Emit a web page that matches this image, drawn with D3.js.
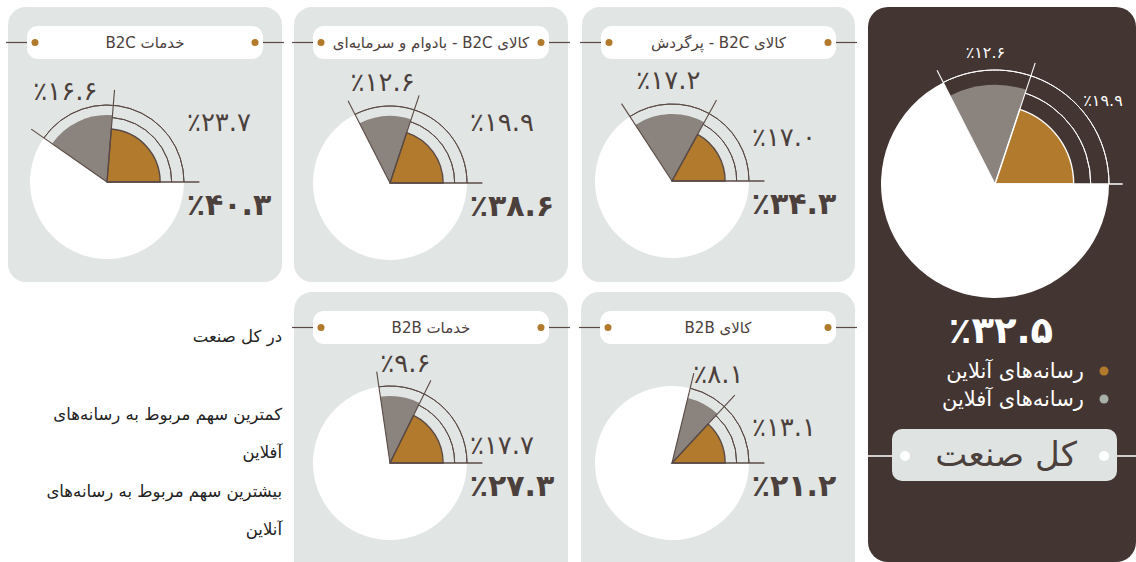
<!DOCTYPE html>
<html>
<head>
<meta charset="utf-8">
<script src="https://cdn.jsdelivr.net/npm/d3@7"></script>
<style>
  html, body { margin: 0; padding: 0; background: #ffffff; }
  svg { display: block; font-family: "DejaVu Sans", "Noto Sans", sans-serif; }
</style>
</head>
<body>
<svg id="chart" width="1136" height="562"></svg>
<script>
// ---------- data ----------
const categories = [
  "خدمات B2C",
  "کالای B2C - بادوام و سرمایه\u200cای",
  "کالای B2C - پرگردش",
  "خدمات B2B",
  "کالای B2B"
];
const onlineShare  = [23.7, 19.9, 17.0, 17.7, 13.1];
const offlineShare = [16.6, 12.6, 17.2, 9.6, 8.1];
const totalShare   = [40.3, 38.6, 34.3, 27.3, 21.2];

const industryTitle   = "کل صنعت";
const industryOnline  = 19.9;
const industryOffline = 12.6;
const industryTotal   = 32.5;
const legendLabels = ["رسانه\u200cهای آنلاین", "رسانه\u200cهای آفلاین"];

const notes = [
  "در کل صنعت",
  "کمترین سهم مربوط به رسانه\u200cهای",
  "آفلاین",
  "بیشترین سهم مربوط به رسانه\u200cهای",
  "آنلاین"
];

// ---------- layout (not data) ----------
const panels = [
  {x: 8,   y: 7,   w: 274, h: 275, cx: 107, cy: 182, onDy: -60},
  {x: 294, y: 7,   w: 274, h: 275, cx: 390, cy: 183, onDy: -61},
  {x: 582, y: 7,   w: 273, h: 275, cx: 672, cy: 181, onDy: -44},
  {x: 294, y: 292, w: 274, h: 290, cx: 390, cy: 463, onDy: -18},
  {x: 581, y: 292, w: 274, h: 290, cx: 672, cy: 463, onDy: -36}
];
const noteY = [336, 414, 452, 491, 529];

const C = {
  panel: "#e1e5e3", dark: "#433531", orange: "#b27a2c", gray: "#8b837e",
  line: "#5a4a45", text: "#4b403c", legendGray: "#a9b0aa", pill: "#dfe4e2"
};

const toFa = v => v.toFixed(1).replace(/\d/g, d => "۰۱۲۳۴۵۶۷۸۹"[+d]);
const pct = v => "٪" + toFa(v);

const svg = d3.select("#chart");
const ang = d3.scaleLinear().domain([0, 100]).range([0, 2 * Math.PI]);
const toD3 = t => Math.PI / 2 - t;   // math angle (ccw from 3 o'clock) -> d3 angle

function drawPie(g, cx, cy, R, online, offline, o) {
  const tO = ang(online), tT = ang(online + offline);
  const arc = d3.arc();
  const gg = g.append("g").attr("transform", `translate(${cx},${cy})`);
  gg.append("path").attr("d", arc({innerRadius: 0, outerRadius: R,
      startAngle: toD3(2 * Math.PI), endAngle: toD3(tT)})).attr("fill", "#ffffff");
  gg.append("path").attr("d", arc({innerRadius: 0, outerRadius: R * 0.87,
      startAngle: toD3(tT), endAngle: toD3(tO)})).attr("fill", C.gray);
  gg.append("path").attr("d", arc({innerRadius: 0, outerRadius: R * 0.69,
      startAngle: toD3(tO), endAngle: toD3(0)}))
    .attr("fill", C.orange).attr("stroke", o.stroke).attr("stroke-width", 1.4);
  gg.append("path").attr("d", arc({innerRadius: R * 0.84, outerRadius: R * 0.84,
      startAngle: toD3(tO), endAngle: toD3(0)}))
    .attr("fill", "none").attr("stroke", o.stroke).attr("stroke-width", 1);
  gg.append("path").attr("d", arc({innerRadius: R, outerRadius: R,
      startAngle: toD3(tT), endAngle: toD3(0)}))
    .attr("fill", "none").attr("stroke", o.stroke).attr("stroke-width", 1);
  [0, tO, tT].forEach((t, i) => {
    const L = R * o.lineK;
    gg.append("line").attr("x1", 0).attr("y1", 0)
      .attr("x2", L * Math.cos(t)).attr("y2", -L * Math.sin(t))
      .attr("stroke", o.stroke).attr("stroke-width", i === 0 ? 1.6 : 1.1);
  });
  const tm = (tO + tT) / 2;
  gg.append("text").attr("x", R * o.grayK * Math.cos(tm)).attr("y", -R * (o.grayK + 0.04) * Math.sin(tm))
    .attr("text-anchor", "middle").attr("dominant-baseline", "central")
    .attr("direction", "ltr")
    .attr("font-size", o.fs).attr("fill", o.textColor).text(pct(offline));
  gg.append("text").attr("x", o.onDx).attr("y", o.onDy)
    .attr("text-anchor", "middle").attr("dominant-baseline", "central")
    .attr("direction", "ltr")
    .attr("font-size", o.fs).attr("fill", o.textColor).text(pct(online));
  return gg;
}

// ---------- small panels ----------
categories.forEach((cat, i) => {
  const p = panels[i];
  const g = svg.append("g");
  g.append("rect").attr("x", p.x).attr("y", p.y).attr("width", p.w).attr("height", p.h)
    .attr("rx", 18).attr("fill", C.panel);
  const px = p.x + 19, py = p.y + 19, pw = p.w - 38, ph = 33;
  const dy = py + ph / 2;
  g.append("line").attr("x1", p.x - 2).attr("x2", px + 8).attr("y1", dy).attr("y2", dy)
    .attr("stroke", C.line).attr("stroke-width", 1.2);
  g.append("line").attr("x1", px + pw - 8).attr("x2", p.x + p.w + 2).attr("y1", dy).attr("y2", dy)
    .attr("stroke", C.line).attr("stroke-width", 1.2);
  g.append("rect").attr("x", px).attr("y", py).attr("width", pw).attr("height", ph)
    .attr("rx", 11).attr("fill", "#ffffff");
  [px + 8, px + pw - 8].forEach(x => g.append("circle").attr("cx", x).attr("cy", dy).attr("r", 3.5).attr("fill", C.orange));
  g.append("text").attr("x", px + pw / 2).attr("y", dy).attr("text-anchor", "middle")
    .attr("dominant-baseline", "central").attr("direction", "rtl")
    .attr("font-size", 15).attr("fill", C.text).text(cat);

  const R = 77;
  const gg = drawPie(g, p.cx, p.cy, R, onlineShare[i], offlineShare[i], {
    stroke: C.line, lineK: 1.2, grayK: 1.27, fs: 26, textColor: C.text,
    onDx: 112, onDy: p.onDy
  });
  gg.append("text").attr("x", 122).attr("y", 22)
    .attr("text-anchor", "middle").attr("dominant-baseline", "central")
    .attr("direction", "ltr").attr("font-weight", "bold")
    .attr("font-size", 30).attr("fill", C.text).text(pct(totalShare[i]));
});

// ---------- notes ----------
notes.forEach((t, i) => {
  svg.append("text").attr("x", 282).attr("y", noteY[i])
    .attr("text-anchor", "start").attr("direction", "rtl")
    .attr("dominant-baseline", "central")
    .attr("font-size", 16.5).attr("fill", "#222222").text(t);
});

// ---------- industry panel ----------
const big = svg.append("g");
big.append("rect").attr("x", 868).attr("y", 7).attr("width", 268).attr("height", 555)
  .attr("rx", 20).attr("fill", C.dark);
drawPie(big, 995, 184, 114, industryOnline, industryOffline, {
  stroke: "#ffffff", lineK: 1.12, grayK: 1.12, fs: 16, textColor: "#ffffff",
  onDx: 108, onDy: -84
});
big.append("text").attr("x", 1001).attr("y", 330).attr("text-anchor", "middle")
  .attr("dominant-baseline", "central").attr("direction", "ltr")
  .attr("font-weight", "bold").attr("font-size", 37).attr("fill", "#ffffff")
  .text(pct(industryTotal));
[C.orange, C.legendGray].forEach((c, i) => {
  const y = 371 + i * 28;
  big.append("circle").attr("cx", 1104).attr("cy", y).attr("r", 4.5).attr("fill", c);
  big.append("text").attr("x", 1084).attr("y", y).attr("text-anchor", "start")
    .attr("direction", "rtl").attr("dominant-baseline", "central")
    .attr("font-size", 21).attr("fill", "#ffffff").text(legendLabels[i]);
});
big.append("line").attr("x1", 866).attr("x2", 905).attr("y1", 456).attr("y2", 456)
  .attr("stroke", "#ffffff").attr("stroke-width", 1.5);
big.append("line").attr("x1", 1104).attr("x2", 1136).attr("y1", 456).attr("y2", 456)
  .attr("stroke", "#ffffff").attr("stroke-width", 1.5);
big.append("rect").attr("x", 892).attr("y", 429).attr("width", 225).attr("height", 52)
  .attr("rx", 10).attr("fill", C.pill);
[905, 1104].forEach(x => big.append("circle").attr("cx", x).attr("cy", 456).attr("r", 5).attr("fill", "#ffffff"));
big.append("text").attr("x", 1006).attr("y", 454).attr("text-anchor", "middle")
  .attr("dominant-baseline", "central").attr("direction", "rtl")
  .attr("font-size", 34).attr("fill", C.text).text(industryTitle);
</script>
</body>
</html>
